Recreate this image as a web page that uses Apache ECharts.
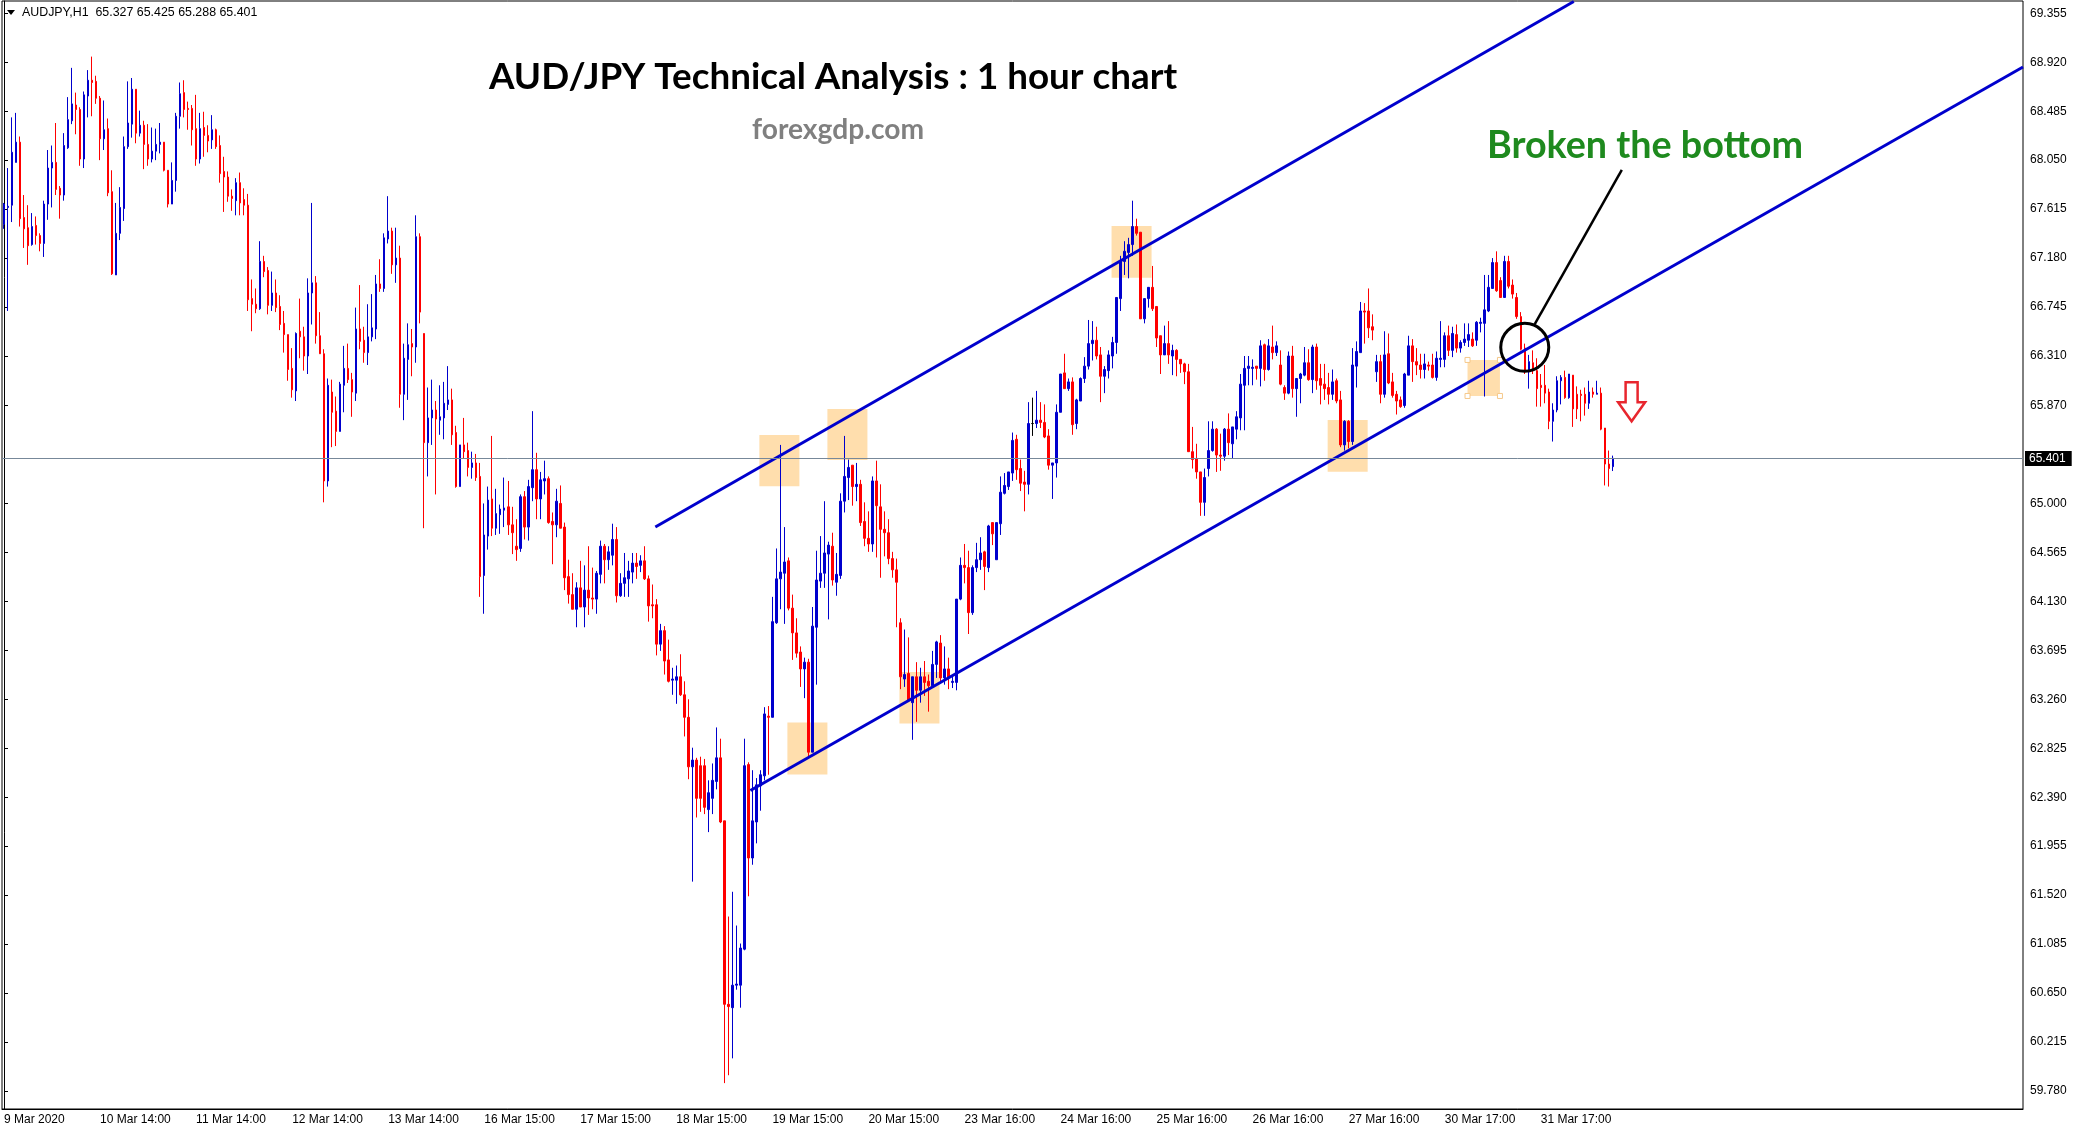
<!DOCTYPE html>
<html><head><meta charset="utf-8">
<script src="https://cdn.jsdelivr.net/npm/echarts@6/dist/echarts.min.js"></script>
<style>html,body{margin:0;padding:0;background:#fff}#c{width:2080px;height:1133px}</style>
</head><body><div id="c"></div><script>
// ---- data ----
const symbol = 'AUDJPY,H1';
const lastQuote = [65.327, 65.425, 65.288, 65.401]; // O H L C
const tickLabels = ['9 Mar 2020','10 Mar 14:00','11 Mar 14:00','12 Mar 14:00','13 Mar 14:00','16 Mar 15:00','17 Mar 15:00','18 Mar 15:00','19 Mar 15:00','20 Mar 15:00','23 Mar 16:00','24 Mar 16:00','25 Mar 16:00','26 Mar 16:00','27 Mar 16:00','30 Mar 17:00','31 Mar 17:00'];
const barsPerLabel = 24;
const slotCount = 505;
const yTicks = [69.355,68.920,68.485,68.050,67.615,67.180,66.745,66.310,65.870,65.000,64.565,64.130,63.695,63.260,62.825,62.390,61.955,61.520,61.085,60.650,60.215,59.780];
const yRange = [59.620, 69.464];
// [open, close, low, high]
const ohlc = [
[67.48,67.66,67.44,67.67],[67.63,67.64,66.71,67.98],[67.65,68.12,67.50,68.43],[68.03,68.21,68.03,68.47],[68.21,67.53,67.46,68.26],
[67.54,67.44,67.27,67.74],[67.45,67.29,67.12,67.65],[67.30,67.46,67.29,67.58],[67.47,67.38,67.30,67.55],[67.38,67.31,67.24,67.40],
[67.31,67.66,67.19,67.69],[67.66,67.98,67.52,68.14],[67.98,68.03,67.63,68.18],[68.03,67.79,67.74,68.38],[67.80,67.74,67.53,67.82],
[67.74,68.18,67.69,68.29],[68.16,68.41,68.15,68.61],[68.40,68.55,68.37,68.87],[68.54,68.50,68.28,68.65],[68.50,68.06,68.00,68.52],
[68.06,68.63,67.98,68.66],[68.62,68.76,68.43,68.85],[68.76,68.74,68.44,68.97],[68.75,68.60,68.55,68.80],[68.60,68.24,68.05,68.62],
[68.24,68.32,68.14,68.58],[68.33,67.76,67.73,68.42],[67.77,67.04,67.03,67.96],[67.03,67.40,67.03,67.67],[67.40,67.63,67.34,67.81],
[67.62,68.17,67.51,68.26],[68.17,68.38,68.15,68.75],[68.37,68.68,68.25,68.78],[68.68,68.29,68.20,68.68],[68.29,68.36,68.26,68.49],
[68.36,68.19,67.97,68.40],[68.19,68.06,68.00,68.37],[68.06,68.13,68.03,68.34],[68.13,68.19,68.05,68.33],[68.19,68.21,68.11,68.38],
[68.21,67.96,67.95,68.21],[67.96,67.66,67.63,67.96],[67.66,67.87,67.66,68.03],[67.87,68.44,67.77,68.47],[68.44,68.64,68.33,68.74],
[68.65,68.50,68.43,68.76],[68.51,68.50,68.32,68.57],[68.51,68.32,68.18,68.54],[68.33,68.06,68.00,68.63],[68.06,68.33,68.02,68.47],
[68.34,68.27,68.08,68.48],[68.27,68.22,68.12,68.36],[68.23,68.32,68.15,68.45],[68.32,68.17,68.15,68.33],[68.18,67.93,67.85,68.27],
[67.95,67.90,67.59,68.08],[67.90,67.73,67.68,67.95],[67.73,67.71,67.60,67.79],[67.69,67.85,67.56,67.89],[67.85,67.67,67.56,67.94],
[67.70,67.65,67.56,67.80],[67.65,66.81,66.71,67.75],[66.82,66.77,66.53,66.99],[66.77,66.73,66.69,66.91],[66.73,67.15,66.72,67.33],
[67.15,67.06,67.01,67.20],[67.07,66.76,66.68,67.10],[66.76,66.87,66.71,67.06],[66.87,66.74,66.70,66.99],[66.75,66.59,66.54,66.85],
[66.60,66.50,66.34,66.71],[66.50,66.19,66.09,66.50],[66.20,66.01,65.94,66.38],[66.00,66.51,65.91,66.52],[66.53,66.48,66.29,66.82],
[66.48,66.31,66.18,66.57],[66.31,66.87,66.15,67.00],[66.87,66.96,66.59,67.67],[66.96,66.49,66.42,67.02],[66.49,66.33,66.33,66.70],
[66.33,65.20,65.01,66.37],[65.20,66.05,65.15,66.11],[65.99,65.81,65.50,66.10],[65.82,65.64,65.51,65.95],[65.64,66.06,65.64,66.08],
[66.05,66.20,65.81,66.40],[66.20,66.10,66.07,66.42],[66.10,65.99,65.77,66.16],[65.98,66.55,65.91,66.74],[66.55,66.44,66.37,66.94],
[66.45,66.34,66.25,66.57],[66.34,66.48,66.23,66.77],[66.48,66.56,66.44,66.86],[66.55,66.95,66.46,67.03],[66.95,66.91,66.88,67.17],
[66.91,67.36,66.88,67.40],[67.35,67.42,67.31,67.73],[67.42,67.12,67.04,67.45],[67.12,67.18,66.96,67.45],[67.18,65.97,65.85,67.29],
[65.97,66.29,65.74,66.42],[66.28,66.41,65.92,66.60],[66.42,66.39,66.13,66.55],[66.39,67.37,66.25,67.56],[67.37,66.70,66.60,67.40],
[66.51,65.54,64.78,66.51],[65.54,65.76,65.24,66.03],[65.76,65.83,65.52,66.10],[65.83,65.75,65.08,65.91],[65.74,65.77,65.61,66.05],
[65.76,65.89,65.57,66.08],[65.88,65.92,65.83,66.22],[65.92,65.61,65.52,66.02],[65.63,65.15,65.14,65.69],[65.15,65.52,65.15,65.52],
[65.52,65.46,65.40,65.76],[65.47,65.32,65.24,65.54],[65.32,65.36,65.22,65.46],[65.36,65.23,65.20,65.44],[65.24,64.35,64.17,65.36],
[64.36,64.72,64.02,65.00],[64.71,65.03,64.59,65.15],[65.04,64.78,64.71,65.60],[64.78,64.91,64.72,65.13],[64.90,64.95,64.73,64.99],
[64.94,64.96,64.79,65.23],[64.97,64.81,64.72,65.20],[64.81,64.74,64.55,64.97],[64.62,64.59,64.49,64.86],[64.60,65.06,64.57,65.08],
[65.06,64.79,64.68,65.11],[64.79,65.15,64.67,65.21],[65.14,65.30,65.02,65.82],[65.30,65.04,64.86,65.45],[65.04,65.21,64.86,65.28],
[65.20,65.22,65.08,65.38],[65.22,64.83,64.82,65.24],[64.84,64.81,64.46,64.92],[64.81,65.02,64.70,65.13],[65.00,64.78,64.78,65.16],
[64.79,64.34,64.23,64.83],[64.35,64.19,64.11,64.50],[64.19,64.06,64.06,64.38],[64.06,64.25,63.90,64.30],[64.25,64.08,64.08,64.49],
[64.08,64.23,63.90,64.45],[64.23,64.16,64.01,64.62],[64.16,64.15,64.06,64.43],[64.15,64.38,64.02,64.40],[64.37,64.62,64.29,64.67],
[64.62,64.50,64.29,64.64],[64.50,64.57,64.41,64.62],[64.54,64.68,64.45,64.82],[64.68,64.18,64.12,64.79],[64.18,64.29,64.17,64.38],
[64.29,64.34,64.17,64.56],[64.33,64.40,64.17,64.49],[64.39,64.47,64.29,64.56],[64.47,64.44,64.33,64.56],[64.45,64.49,64.39,64.54],
[64.49,64.33,64.32,64.62],[64.33,64.09,63.95,64.36],[64.10,64.09,63.98,64.28],[64.10,63.75,63.65,64.15],[63.75,63.87,63.69,63.93],
[63.87,63.60,63.48,63.91],[63.61,63.42,63.41,63.79],[63.43,63.44,63.30,63.54],[63.43,63.46,63.22,63.56],[63.46,63.30,63.29,63.66],
[63.30,63.10,62.93,63.42],[63.10,62.66,62.55,63.26],[62.66,62.72,61.64,62.83],[62.72,62.38,62.21,62.74],[62.67,62.38,62.26,62.75],
[62.67,62.30,62.24,62.73],[62.28,62.43,62.08,62.54],[62.38,62.54,62.24,62.69],[62.53,62.74,62.46,63.01],[62.74,62.17,62.16,62.91],
[62.18,60.55,59.85,62.18],[60.55,60.53,59.92,61.33],[60.52,60.72,60.07,61.55],[60.72,60.73,60.68,61.25],[60.72,61.05,60.52,61.09],
[61.04,62.67,61.03,62.91],[62.68,61.85,61.51,62.70],[61.85,62.18,61.79,62.63],[62.17,62.50,61.98,62.56],[62.49,62.59,62.27,62.63],
[62.58,63.13,62.54,63.19],[63.11,63.10,62.59,63.20],[63.10,63.95,63.10,64.17],[63.94,64.33,63.93,64.60],[64.33,64.39,64.06,65.52],
[64.38,64.48,63.93,64.79],[64.49,64.07,64.05,64.52],[64.07,63.85,63.61,64.19],[63.85,63.67,63.63,63.98],[63.68,63.53,63.37,63.73],
[63.53,63.59,63.27,63.63],[63.59,62.79,62.75,63.62],[62.79,63.91,62.79,64.08],[63.90,64.32,63.39,64.58],[64.31,64.38,64.25,64.71],
[64.38,64.56,64.25,65.02],[64.55,64.63,63.97,64.66],[64.62,64.32,64.27,64.74],[64.30,64.37,64.18,64.56],[64.36,65.02,64.33,65.09],
[65.02,65.24,64.92,65.60],[65.23,65.32,65.03,65.39],[65.34,65.15,64.98,65.34],[65.15,65.17,65.02,65.36],[65.17,64.83,64.80,65.21],
[64.84,64.69,64.62,65.01],[64.69,64.64,64.57,64.93],[64.64,65.20,64.57,65.24],[65.20,64.98,64.52,65.38],[64.97,64.77,64.34,65.17],
[64.77,64.74,64.53,64.93],[64.74,64.51,64.46,64.86],[64.51,64.41,64.34,64.57],[64.41,64.30,63.90,64.51],[63.94,63.46,63.35,63.98],
[63.44,63.48,63.37,63.88],[63.49,63.25,63.24,63.81],[63.23,63.46,62.90,63.46],[63.46,63.34,63.06,63.59],[63.34,63.46,63.23,63.54],
[63.46,63.41,63.29,63.60],[63.42,63.38,63.15,63.48],[63.38,63.57,63.38,63.69],[63.57,63.77,63.45,63.78],[63.76,63.45,63.40,63.83],
[63.45,63.53,63.39,63.73],[63.53,63.45,63.35,63.63],[63.41,63.42,63.36,63.47],[63.41,64.15,63.34,64.15],[64.15,64.45,64.14,64.52],
[64.45,64.43,64.29,64.64],[64.43,64.03,63.84,64.58],[64.03,64.43,64.01,64.45],[64.43,64.50,64.39,64.65],[64.50,64.56,64.41,64.70],
[64.57,64.44,64.23,64.58],[64.43,64.80,64.39,64.81],[64.83,64.73,64.63,64.83],[64.50,64.83,64.50,64.83],[64.82,65.10,64.72,65.24],
[65.09,65.16,65.08,65.27],[65.15,65.28,65.12,65.28],[65.27,65.56,65.20,65.63],[65.57,65.30,65.21,65.61],[65.31,65.18,65.11,65.39],
[65.19,65.17,64.93,65.29],[65.17,65.71,65.08,65.90],[65.71,65.71,65.60,65.94],[65.71,65.74,65.67,66.00],[65.74,65.72,65.67,65.90],
[65.72,65.59,65.58,65.88],[65.60,65.34,65.30,65.66],[65.34,65.36,65.04,65.36],[65.36,65.81,65.23,65.88],[65.81,66.15,65.81,66.15],
[66.16,66.02,66.02,66.33],[66.02,66.08,66.00,66.11],[66.08,65.70,65.61,66.12],[65.71,65.92,65.66,65.93],[65.91,66.11,65.91,66.12],
[66.11,66.22,66.07,66.30],[66.22,66.42,66.19,66.63],[66.42,66.45,66.27,66.62],[66.45,66.31,66.28,66.57],[66.32,66.13,65.90,66.39],
[66.13,66.19,65.98,66.22],[66.18,66.32,66.11,66.36],[66.31,66.43,66.20,66.48],[66.43,66.83,66.33,66.83],[66.82,67.15,66.71,67.20],
[67.15,67.24,67.03,67.33],[67.23,67.30,67.00,67.36],[67.30,67.46,67.20,67.69],[67.46,67.40,67.38,67.53],[67.41,66.64,66.64,67.41],
[66.64,66.82,66.60,66.82],[66.82,66.92,66.74,66.92],[66.92,66.73,66.71,67.11],[66.75,66.47,66.39,66.75],[66.49,66.32,66.15,66.49],
[66.32,66.42,66.32,66.58],[66.42,66.32,66.24,66.62],[66.31,66.36,66.14,66.41],[66.36,66.28,66.13,66.37],[66.28,66.24,66.16,66.28],
[66.24,66.17,66.06,66.25],[66.17,65.46,65.46,66.24],[65.46,65.39,65.31,65.68],[65.40,65.28,65.22,65.53],[65.28,65.01,64.89,65.28],
[65.01,65.23,64.89,65.31],[65.31,65.47,65.24,65.73],[65.47,65.66,65.46,65.73],[65.66,65.43,65.28,65.67],[65.43,65.42,65.29,65.62],
[65.42,65.66,65.38,65.67],[65.66,65.54,65.43,65.80],[65.53,65.68,65.40,65.68],[65.66,65.77,65.57,65.82],[65.76,66.06,65.65,66.15],
[66.05,66.20,65.65,66.31],[66.20,66.22,66.05,66.31],[66.20,66.21,66.05,66.28],[66.22,66.20,66.10,66.22],[66.20,66.40,66.04,66.45],
[66.41,66.19,66.09,66.42],[66.19,66.40,66.18,66.46],[66.39,66.34,66.28,66.58],[66.34,66.40,66.31,66.44],[66.23,66.06,66.05,66.36],
[66.03,65.98,65.92,66.05],[65.98,66.31,65.97,66.35],[66.31,66.02,65.94,66.40],[66.02,66.11,65.77,66.11],[66.11,66.15,65.89,66.16],
[66.14,66.25,66.13,66.39],[66.25,66.10,66.09,66.37],[66.10,66.39,65.98,66.41],[66.39,66.09,66.01,66.42],[66.11,66.05,65.88,66.24],
[66.06,66.02,65.92,66.24],[66.03,65.97,65.88,66.16],[65.97,66.08,65.92,66.19],[66.09,65.91,65.89,66.11],[65.92,65.52,65.50,66.00],
[65.52,65.73,65.47,65.74],[65.73,65.55,65.49,65.74],[65.55,66.23,65.52,66.38],[66.22,66.35,66.03,66.44],[66.34,66.71,66.34,66.79],
[66.71,66.70,66.42,66.78],[66.71,66.56,66.47,66.91],[66.57,66.54,66.45,66.68],[66.17,66.26,66.08,66.32],[66.26,65.97,65.89,66.32],
[65.97,66.32,65.94,66.53],[66.33,66.07,66.06,66.51],[66.08,65.96,65.94,66.16],[65.97,65.91,65.79,66.00],[65.92,65.86,65.85,65.95],
[65.87,66.15,65.85,66.16],[66.14,66.40,66.14,66.49],[66.40,66.26,66.08,66.46],[66.26,66.23,66.14,66.38],[66.23,66.19,66.11,66.33],
[66.19,66.24,66.11,66.33],[66.23,66.22,66.18,66.26],[66.23,66.12,66.11,66.33],[66.12,66.29,66.09,66.35],[66.28,66.29,66.21,66.62],
[66.28,66.49,66.21,66.52],[66.49,66.36,66.31,66.58],[66.36,66.51,66.30,66.57],[66.50,66.38,66.34,66.59],[66.38,66.43,66.34,66.45],
[66.43,66.46,66.40,66.60],[66.45,66.50,66.39,66.60],[66.46,66.40,66.39,66.52],[66.45,66.61,66.40,66.62],[66.60,66.61,66.52,66.65],
[66.60,66.72,65.95,67.03],[66.71,66.92,66.70,67.03],[66.91,67.14,66.91,67.18],[67.14,66.89,66.88,67.24],[66.98,66.83,66.83,67.01],
[66.83,67.15,66.83,67.20],[67.15,66.93,66.91,67.20],[66.94,66.86,66.82,66.99],[66.83,66.66,66.64,66.87],[66.66,66.37,66.36,66.70],
[66.38,66.17,66.15,66.42],[66.17,66.26,66.02,66.32],[66.25,66.18,66.15,66.36],[66.18,66.02,65.86,66.29],[66.05,66.03,65.86,66.15],
[66.05,65.98,65.89,66.23],[65.99,65.73,65.66,66.02],[65.73,65.83,65.55,65.89],[65.83,66.09,65.81,66.13],[66.09,66.12,65.88,66.14],
[66.12,65.94,65.93,66.18],[65.94,66.15,65.93,66.15],[66.14,65.84,65.68,66.14],[65.97,65.84,65.75,66.04],[65.97,65.96,65.73,66.01],
[65.97,65.89,65.78,66.03],[65.89,65.99,65.84,66.09],[65.99,65.97,65.94,66.03],[65.97,65.98,65.97,66.09],[65.98,65.66,65.65,66.03],
[65.67,65.35,65.16,65.67],[65.35,65.31,65.15,65.47],[65.327,65.401,65.288,65.425]
];
// channel lines, in [bar index, price]
const channelUpper = [[162.75, 64.791], [392.25, 69.46]];
const channelLower = [[186.5, 62.450], [504.5, 68.877]];
// highlighted zones: [bar from, price top, bar to, price bottom]
const zones = [
  [188.75, 65.608, 198.75, 65.152],
  [205.75, 65.839, 215.75, 65.386],
  [195.75, 63.053, 205.75, 62.591],
  [223.75, 63.503, 233.75, 63.045],
  [276.75, 67.465, 286.75, 67.005],
  [330.75, 65.742, 340.75, 65.282],
  [365.7, 66.275, 373.8, 65.955]
];
const selectedZone = 6;
const breakCircle = [[380, 66.387]];
const pointerLine = [[382.5, 66.594], [404.25, 67.963]];
const downArrow = [[406.7, 66.077]];
const titleText = 'AUD/JPY Technical Analysis : 1 hour chart';
const siteText = 'forexgdp.com';
const noteText = 'Broken the bottom';

// ---- helpers ----
function fitSize(text, weight, family, target) {
  const ctx = document.createElement('canvas').getContext('2d');
  ctx.font = weight + ' 100px ' + family;
  return 100 * target / ctx.measureText(text).width;
}
const categories = [];
for (let i = 0; i < slotCount; i++) categories.push(i % barsPerLabel === 0 && tickLabels[i / barsPerLabel] ? tickLabels[i / barsPerLabel] : '');
const showTick = (idx) => idx % barsPerLabel === 0 && idx / barsPerLabel < tickLabels.length;

const BLUE = '#0000cd', RED = '#ff0000';
const titleFont = '"Lato", sans-serif';
const headerStr = symbol + '  ' + lastQuote.map(v => v.toFixed(3)).join(' ');

const chart = echarts.init(document.getElementById('c'), null, {renderer: 'canvas'});
const option = {
  animation: false,
  backgroundColor: '#fff',
  grid: {left: 2, right: 57, top: 1, bottom: 24, show: true, borderColor: '#000', borderWidth: 1, backgroundColor: 'transparent'},
  xAxis: [{
    type: 'category', data: categories, boundaryGap: true,
    axisLine: {lineStyle: {color: '#000', width: 1}},
    axisTick: {alignWithLabel: true, interval: showTick, length: 4, lineStyle: {color: '#000'}},
    axisLabel: {interval: showTick, align: 'left', margin: 5, color: '#000', fontSize: 12, fontFamily: '"Liberation Sans", sans-serif', showMaxLabel: true, showMinLabel: true, hideOverlap: false},
    splitLine: {show: false}
  }, {
    type: 'value', min: -0.5, max: slotCount - 0.5, show: false
  }],
  yAxis: {
    type: 'value', position: 'right', min: yRange[0], max: yRange[1], scale: true,
    axisLine: {show: true, lineStyle: {color: '#000', width: 1}},
    axisTick: {show: true, length: 4, customValues: yTicks, lineStyle: {color: '#000'}},
    axisLabel: {customValues: yTicks, formatter: v => v.toFixed(3), margin: 7, color: '#000', fontSize: 12, fontFamily: '"Liberation Sans", sans-serif'},
    splitLine: {show: false}
  },
  series: [
    {
      type: 'custom', xAxisIndex: 1, z: 1, silent: true,
      data: zones, encode: {x: [0, 2], y: [1, 3]},
      renderItem: function (params, api) {
        const a = api.coord([api.value(0), api.value(1)]);
        const b = api.coord([api.value(2), api.value(3)]);
        const kids = [{type: 'rect', shape: {x: a[0], y: a[1], width: b[0] - a[0], height: b[1] - a[1]}, style: {fill: '#FFDEAD'}}];
        if (params.dataIndex === selectedZone) {
          [[a[0], a[1]], [b[0], a[1]], [a[0], b[1]], [b[0], b[1]]].forEach(p => {
            kids.push({type: 'rect', shape: {x: p[0] - 2.5, y: p[1] - 2.5, width: 5, height: 5}, style: {fill: '#fff', stroke: '#F5C88A', lineWidth: 1}});
          });
        }
        return {type: 'group', children: kids};
      }
    },
    {
      type: 'candlestick', z: 3, data: ohlc, barWidth: 2,
      itemStyle: {color: BLUE, color0: RED, borderColor: BLUE, borderColor0: RED, borderColorDoji: '#000', borderWidth: 1},
      markLine: {
        silent: true, symbol: 'none', animation: false,
        data: [{yAxis: lastQuote[3]}],
        lineStyle: {color: '#778899', width: 1, type: 'solid'},
        label: {show: true, position: 'end', distance: 2, formatter: () => lastQuote[3].toFixed(3), color: '#fff', backgroundColor: '#000', padding: [2, 6, 1, 4], fontSize: 12, fontFamily: '"Liberation Sans", sans-serif'}
      }
    },
    {
      type: 'line', xAxisIndex: 1, z: 4, silent: true, data: channelUpper, symbol: 'none',
      lineStyle: {color: BLUE, width: 3}
    },
    {
      type: 'line', xAxisIndex: 1, z: 4, silent: true, data: channelLower, symbol: 'none',
      lineStyle: {color: BLUE, width: 3}
    },
    {
      type: 'line', xAxisIndex: 1, z: 5, silent: true, data: pointerLine, symbol: 'none',
      lineStyle: {color: '#000', width: 2.5}
    },
    {
      type: 'custom', xAxisIndex: 1, z: 5, silent: true, data: breakCircle,
      renderItem: function (params, api) {
        const c = api.coord([api.value(0), api.value(1)]);
        return {type: 'circle', shape: {cx: c[0], cy: c[1], r: 24}, style: {fill: null, stroke: '#000', lineWidth: 3}};
      }
    },
    {
      type: 'custom', xAxisIndex: 1, z: 5, silent: true, data: downArrow,
      renderItem: function (params, api) {
        const c = api.coord([api.value(0), api.value(1)]);
        const x = c[0], y = c[1];
        return {type: 'polygon', shape: {points: [[x - 6, y], [x + 6, y], [x + 6, y + 20], [x + 13.5, y + 20], [x, y + 39], [x - 13.5, y + 20], [x - 6, y + 20]]},
          style: {fill: '#fff', stroke: '#e8262e', lineWidth: 2.5}};
      }
    }
  ],
  graphic: [
    {type: 'polygon', shape: {points: [[7, 10], [15, 10], [11, 15]]}, style: {fill: '#000'}},
    {type: 'text', x: 22, y: 12.5, style: {text: headerStr, font: fitSize(headerStr, 'normal', '"Liberation Sans"', 236).toFixed(1) + 'px "Liberation Sans"', fill: '#000', textAlign: 'left', textVerticalAlign: 'middle'}},
    {type: 'text', x: 833, y: 77, style: {text: titleText, font: 'bold ' + fitSize(titleText, 'bold', titleFont, 688).toFixed(1) + 'px ' + titleFont, fill: '#000', textAlign: 'center', textVerticalAlign: 'middle'}},
    {type: 'text', x: 838, y: 130, style: {text: siteText, font: 'bold ' + fitSize(siteText, 'bold', titleFont, 172).toFixed(1) + 'px ' + titleFont, fill: '#808080', textAlign: 'center', textVerticalAlign: 'middle'}},
    {type: 'text', x: 1645, y: 146, style: {text: noteText, font: 'bold ' + fitSize(noteText, 'bold', titleFont, 316).toFixed(1) + 'px ' + titleFont, fill: '#1e8a1e', textAlign: 'center', textVerticalAlign: 'middle'}}
  ]
};
chart.setOption(option);
</script></body></html>
